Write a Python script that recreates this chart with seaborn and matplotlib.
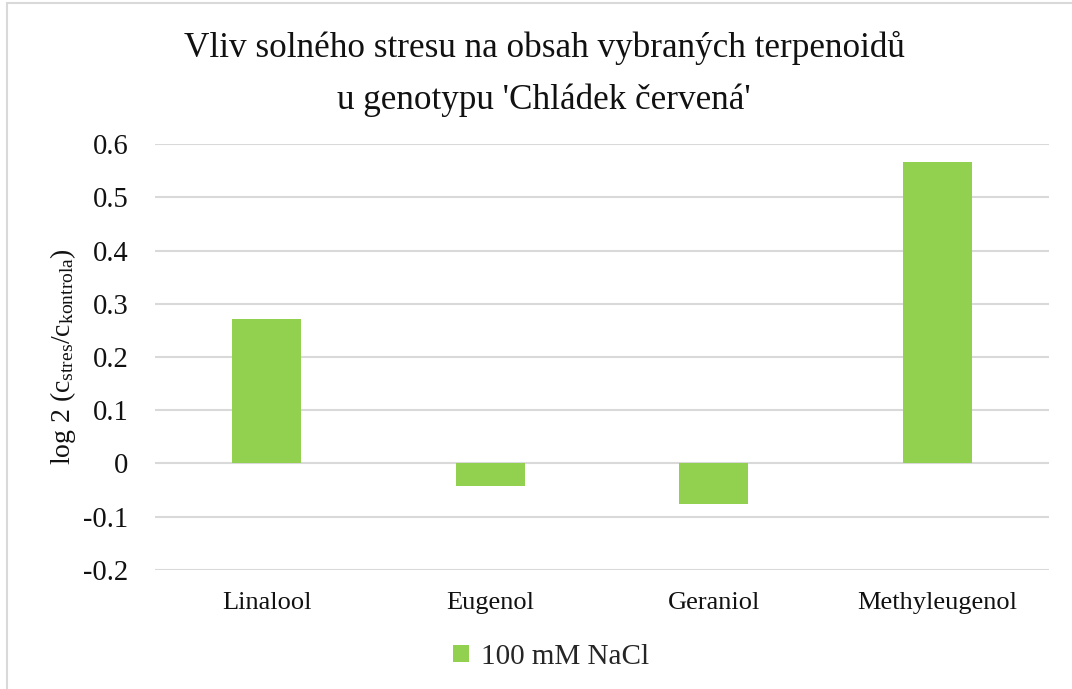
import pandas as pd
import matplotlib
matplotlib.use('Agg')
import matplotlib.pyplot as plt
from matplotlib.patches import Rectangle
import seaborn as sns

# values
compounds = ['Linalool', 'Eugenol', 'Geraniol', 'Methyleugenol']
log2_ratio = [0.272, -0.042, -0.076, 0.566]
treatment = '100 mM NaCl'
y_ticks = [-0.2, -0.1, 0, 0.1, 0.2, 0.3, 0.4, 0.5, 0.6]
y_ticklabels = ['-0.2', '-0.1', '0', '0.1', '0.2', '0.3', '0.4', '0.5', '0.6']

title_lines = ['Vliv solného stresu na obsah vybraných terpenoidů',
               "u genotypu 'Chládek červená'"]

sns.set_theme(style='white')
plt.rcParams['font.family'] = ['Liberation Serif', 'DejaVu Serif']
plt.rcParams['mathtext.fontset'] = 'custom'
plt.rcParams['mathtext.rm'] = 'Liberation Serif'
plt.rcParams['mathtext.it'] = 'Liberation Serif:italic'

df = pd.DataFrame({'compound': compounds, 'value': log2_ratio, 'treatment': treatment})

fig = plt.figure(figsize=(10.72, 6.89), dpi=100)
ax = fig.add_axes([155 / 1072, 1 - 570 / 689, (1049 - 155) / 1072, (570 - 144) / 689])

sns.barplot(data=df, x='compound', y='value', hue='treatment', palette=['#92D050'],
            saturation=1, width=0.31, linewidth=0, ax=ax)

ax.set_ylim(-0.2005, 0.6005)
ax.set_yticks(y_ticks)
ax.set_yticklabels(y_ticklabels)
ax.yaxis.grid(True, color='#D9D9D9', linewidth=1.5)
ax.set_axisbelow(True)
for s in ax.spines.values():
    s.set_visible(False)
ax.tick_params(axis='y', length=0, pad=19, labelsize=20.6, labelcolor='#111111')
ax.tick_params(axis='x', length=0, pad=16, labelsize=19, labelcolor='#111111')
ax.set_xlabel('')
ax.set_ylabel(r'log 2 (c$_{\mathrm{stres}}$/c$_{\mathrm{kontrola}}$)', fontsize=20,
              color='#111111', labelpad=4)

ax.legend(loc='center', bbox_to_anchor=(551 / 1072, 1 - 657 / 689),
          bbox_transform=fig.transFigure, frameon=False, fontsize=21,
          handlelength=0.55, handleheight=0.55, handletextpad=0.4)

fig.text(544 / 1072, 1 - 57 / 689, title_lines[0], ha='center', va='baseline',
         fontsize=25.3, color='#111111')
fig.text(544 / 1072, 1 - 109 / 689, title_lines[1], ha='center', va='baseline',
         fontsize=25.3, color='#111111')

# light chart-area border (only top and left visible in the crop)
fig.patches.append(Rectangle((7 / 1072, -0.1), 1.2, 1.1 - 3 / 689, transform=fig.transFigure,
                             fill=False, edgecolor='#D9D9D9', linewidth=1.5))

fig.savefig('out.png', dpi=100)
